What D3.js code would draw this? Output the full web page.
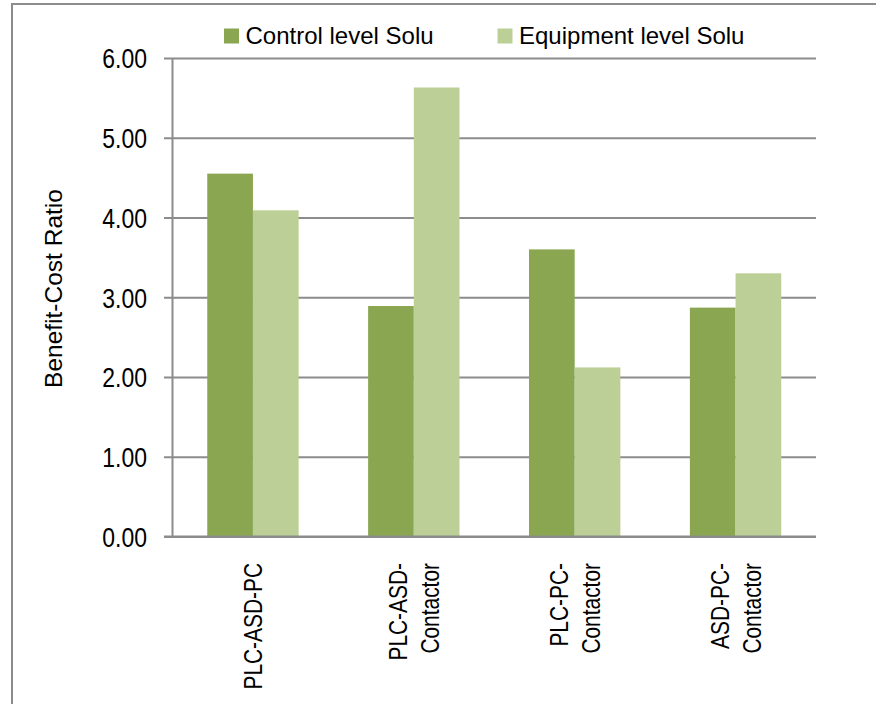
<!DOCTYPE html>
<html>
<head>
<meta charset="utf-8">
<script src="https://cdn.jsdelivr.net/npm/d3@7"></script>
<style>
  html, body { margin: 0; padding: 0; background: #fff; }
  svg { display: block; }
</style>
</head>
<body>
<svg id="chart" width="876" height="704"></svg>
<script>
// Benefit-cost ratio per configuration, for the two solution levels
const categories = ["PLC-ASD-PC", "PLC-ASD-Contactor", "PLC-PC-Contactor", "ASD-PC-Contactor"];
const categoryLines = [["PLC-ASD-PC"], ["PLC-ASD-", "Contactor"], ["PLC-PC-", "Contactor"], ["ASD-PC-", "Contactor"]];
const seriesNames = ["Control level Solu", "Equipment level Solu"];
const controlValues = [4.55, 2.89, 3.60, 2.87];
const equipmentValues = [4.09, 5.63, 2.12, 3.30];
const yTicks = [0, 1, 2, 3, 4, 5, 6];

const colors = ["#8aa650", "#bbcf97"];
const gridColor = "#8c8c8c";
const baseFont = "'Liberation Sans', Arial, sans-serif";
const condense = 0.82; // horizontal squeeze for the condensed axis labels

const svg = d3.select("#chart");

// chart frame
svg.append("rect")
  .attr("x", 12).attr("y", 4)
  .attr("width", 900).attr("height", 760)
  .attr("fill", "#fff")
  .attr("stroke", gridColor).attr("stroke-width", 2);

const plot = { left: 172.5, right: 816, top: 58, bottom: 536.5 };

const x = d3.scaleBand()
  .domain(categories)
  .range([plot.left, plot.right])
  .paddingInner(0.432)
  .paddingOuter(0.216);

const xSeries = d3.scaleBand()
  .domain(seriesNames)
  .range([0, x.bandwidth()]);

const y = d3.scaleLinear().domain([0, 6]).range([plot.bottom, plot.top]);

// horizontal gridlines with short ticks left of the axis
const yAxis = d3.axisLeft(y)
  .tickValues(yTicks)
  .tickFormat(d3.format(".2f"))
  .tickSize(-(plot.right - plot.left))
  .tickPadding(0);

const gy = svg.append("g")
  .attr("transform", `translate(${plot.left},0)`)
  .call(yAxis);
gy.select(".domain").remove();
gy.selectAll(".tick line")
  .attr("x1", -8.5)
  .attr("stroke", gridColor).attr("stroke-width", 2);
gy.selectAll(".tick text")
  .attr("x", 0)
  .attr("dy", "0.35em")
  .attr("transform", `translate(-25.5,0) scale(${condense},1)`)
  .attr("fill", "#000")
  .style("font-family", baseFont)
  .style("font-size", "28px");

// bars
const data = categories.map((c, i) => ({ cat: c, values: [controlValues[i], equipmentValues[i]] }));
const groups = svg.append("g").selectAll("g")
  .data(data).join("g")
  .attr("transform", d => `translate(${x(d.cat)},0)`);
groups.selectAll("rect")
  .data(d => d.values.map((v, j) => ({ name: seriesNames[j], v, j })))
  .join("rect")
  .attr("x", d => xSeries(d.name))
  .attr("width", xSeries.bandwidth())
  .attr("y", d => y(d.v))
  .attr("height", d => y(0) - y(d.v))
  .attr("fill", d => colors[d.j]);

// axis lines
svg.append("line")
  .attr("x1", plot.left).attr("x2", plot.left)
  .attr("y1", plot.top).attr("y2", plot.bottom)
  .attr("stroke", gridColor).attr("stroke-width", 2);
svg.append("line")
  .attr("x1", plot.left - 8.5).attr("x2", plot.right)
  .attr("y1", plot.bottom).attr("y2", plot.bottom)
  .attr("stroke", gridColor).attr("stroke-width", 2);

// rotated category labels
const lineGap = 32;
categories.forEach((c, i) => {
  const lines = categoryLines[i];
  const cx = x(c) + x.bandwidth() / 2;
  const t = svg.append("text")
    .attr("transform", `translate(${cx},${plot.bottom + 26.5}) rotate(-90) scale(${condense},1)`)
    .attr("text-anchor", "end")
    .style("font-family", baseFont)
    .style("font-size", "25.5px")
    .attr("fill", "#000");
  lines.forEach((ln, k) => {
    t.append("tspan")
      .attr("x", 0)
      .attr("y", 9.5 + (k - (lines.length - 1) / 2) * lineGap)
      .text(ln);
  });
});

// y axis title
svg.append("text")
  .attr("transform", `translate(62,288.5) rotate(-90)`)
  .attr("text-anchor", "middle")
  .style("font-family", baseFont)
  .style("font-size", "24.5px")
  .attr("fill", "#000")
  .text("Benefit-Cost Ratio");

// legend
const legendX = [224, 497.5];
const legend = svg.append("g");
seriesNames.forEach((name, j) => {
  legend.append("rect")
    .attr("x", legendX[j]).attr("y", 28.5)
    .attr("width", 15).attr("height", 15)
    .attr("fill", colors[j]);
  legend.append("text")
    .attr("x", legendX[j] + 21.5).attr("y", 44)
    .style("font-family", baseFont)
    .style("font-size", "24px")
    .attr("fill", "#000")
    .text(name);
});
</script>
</body>
</html>
